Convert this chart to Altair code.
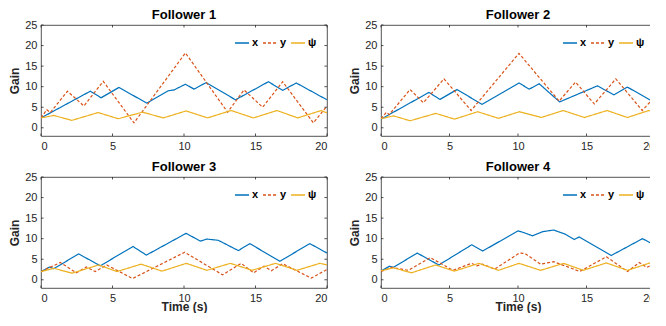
import altair as alt
import pandas as pd

panels = ["Follower 1", "Follower 2", "Follower 3", "Follower 4"]
series = ["x", "y", "ψ"]
colors = ["#0072BD", "#D95319", "#EDB120"]
dashes = [[1, 0], [3, 2], [1, 0]]
x_ticks = [0, 5, 10, 15, 20]
y_ticks = [0, 5, 10, 15, 20, 25]

# Follower 1
f1_x_t = [0, 3.45, 4.2, 5.45, 7.4, 8.9, 9.3, 10.1, 10.7, 11.55, 13.6, 15.9, 16.9, 17.85, 20]
f1_x_v = [2.4, 8.9, 7.3, 9.8, 6.0, 9.0, 9.2, 10.6, 9.4, 11.0, 6.8, 11.2, 9.1, 10.9, 6.8]
f1_y_t = [0, 0.4, 0.65, 1.85, 3.0, 4.35, 6.5, 10.1, 13.05, 14.2, 15.5, 16.9, 19.05, 20]
f1_y_v = [2.4, 4.4, 3.7, 8.9, 5.3, 11.3, 1.2, 18.2, 3.8, 9.2, 5.0, 11.2, 1.2, 5.3]
f1_p_t = [0, 0.9, 2.15, 4.0, 5.4, 7.1, 8.55, 10.15, 11.65, 13.3, 14.85, 16.5, 17.95, 19.6, 20]
f1_p_v = [2.4, 3.0, 1.8, 3.7, 2.2, 3.8, 2.4, 4.1, 2.4, 4.2, 2.4, 4.2, 2.4, 4.2, 3.6]

# Follower 2
f2_x_t = [0, 3.5, 4.3, 5.55, 7.37, 10.07, 10.82, 11.55, 13.04, 15.8, 17.0, 17.98, 20]
f2_x_v = [2.1, 8.6, 6.9, 9.3, 5.7, 10.9, 9.4, 10.7, 6.3, 10.2, 8.0, 9.9, 6.1]
f2_y_t = [0, 0.4, 0.6, 2.12, 3.09, 4.6, 6.58, 10.07, 13.0, 14.2, 15.57, 17.14, 19.07, 20]
f2_y_v = [2.2, 3.8, 3.2, 9.3, 6.1, 11.9, 4.2, 18.1, 6.5, 11.1, 5.8, 11.9, 4.2, 7.6]
f2_p_t = [0, 0.92, 2.12, 4.0, 5.37, 7.06, 8.58, 10.1, 11.7, 13.3, 14.85, 16.5, 17.98, 19.55, 20]
f2_p_v = [2.2, 2.9, 1.7, 3.5, 2.1, 3.9, 2.3, 3.9, 2.5, 4.2, 2.5, 4.2, 2.5, 4.2, 3.6]

# Follower 3
f3_x_t = [0, 0.6, 0.9, 2.63, 4.15, 6.43, 7.37, 10.15, 11.14, 11.6, 12.4, 13.8, 14.6, 16.7, 18.8, 20]
f3_x_v = [2.0, 3.1, 2.7, 6.3, 3.4, 8.1, 6.0, 11.3, 9.4, 9.9, 9.6, 7.1, 8.8, 4.5, 8.8, 6.5]
f3_y_t = [0, 1.35, 2.47, 3.17, 3.8, 4.6, 6.4, 10.05, 12.7, 14.0, 14.87, 15.6, 16.1, 16.9, 18.9, 20]
f3_y_v = [2.0, 4.2, 1.7, 3.1, 2.0, 3.6, 0.3, 6.7, 1.2, 4.0, 1.7, 3.3, 2.2, 3.9, 0.4, 2.5]
f3_p_t = [0, 0.89, 2.17, 4.03, 5.31, 7.0, 8.46, 10.16, 11.6, 13.24, 14.76, 16.4, 17.9, 19.5, 20]
f3_p_v = [2.0, 2.8, 1.6, 3.6, 2.0, 3.8, 2.1, 4.0, 2.3, 4.0, 2.3, 4.0, 2.3, 4.0, 3.6]

# Follower 4
f4_x_t = [0, 0.62, 0.9, 2.64, 4.22, 6.62, 7.43, 10.0, 10.4, 11.06, 11.8, 12.6, 13.45, 14.1, 14.46, 16.8, 19.09, 20]
f4_x_v = [2.1, 3.3, 3.0, 6.5, 3.6, 8.5, 7.0, 11.9, 11.5, 10.7, 11.7, 12.1, 11.1, 9.8, 10.4, 5.9, 10.0, 8.4]
f4_y_t = [0, 0.8, 2.0, 3.6, 5.25, 6.6, 7.0, 7.4, 8.3, 10.1, 10.5, 11.65, 12.6, 13.9, 14.5, 16.45, 18.0, 18.85, 19.4, 20]
f4_y_v = [2.0, 3.0, 2.3, 5.4, 2.3, 4.0, 3.4, 3.8, 2.6, 6.5, 6.4, 3.8, 4.4, 2.8, 2.0, 5.6, 2.0, 4.2, 3.0, 4.0]
f4_p_t = [0, 0.9, 2.23, 3.98, 5.35, 7.14, 8.58, 10.07, 11.65, 13.33, 14.77, 16.45, 18.0, 19.64, 20]
f4_p_v = [2.2, 2.9, 1.7, 3.6, 2.1, 4.0, 2.3, 4.0, 2.3, 4.0, 2.3, 4.1, 2.3, 4.1, 3.6]

data = {
    "Follower 1": [(f1_x_t, f1_x_v), (f1_y_t, f1_y_v), (f1_p_t, f1_p_v)],
    "Follower 2": [(f2_x_t, f2_x_v), (f2_y_t, f2_y_v), (f2_p_t, f2_p_v)],
    "Follower 3": [(f3_x_t, f3_x_v), (f3_y_t, f3_y_v), (f3_p_t, f3_p_v)],
    "Follower 4": [(f4_x_t, f4_x_v), (f4_y_t, f4_y_v), (f4_p_t, f4_p_v)],
}

X_MIN, X_MAX = 0, 20
Y_MIN, Y_MAX = -2, 25
TICK_Y = 0.6   # inward tick length in y units
TICK_X = 0.18  # inward tick length in x units

xt_rows = []
for t in x_ticks:
    xt_rows.append({"t": t, "v": Y_MIN, "b": Y_MIN + TICK_Y})
    xt_rows.append({"t": t, "v": Y_MAX - TICK_Y, "b": Y_MAX})
yt_rows = []
for v in y_ticks:
    yt_rows.append({"v": v, "t": X_MIN, "b": X_MIN + TICK_X})
    yt_rows.append({"v": v, "t": X_MAX - TICK_X, "b": X_MAX})
xt_df = pd.DataFrame(xt_rows)
yt_df = pd.DataFrame(yt_rows)

xs = alt.Scale(domain=[X_MIN, X_MAX], nice=False, zero=False)
ys = alt.Scale(domain=[Y_MIN, Y_MAX], nice=False, zero=False)
AX = "#262626"


def make_legend(lx):
    return alt.Legend(
        title=None, orient="none", legendX=lx, legendY=10, direction="horizontal",
        symbolType="stroke", symbolSize=196, symbolStrokeWidth=1.3,
        labelFontSize=11, labelFontWeight="bold", labelColor="#000000",
        columnPadding=1, labelOffset=2, padding=0, gridAlign="none",
    )


def panel(name, xtitle, w):
    rows = []
    for s, (tt, vv) in zip(series, data[name]):
        for k, (t, v) in enumerate(zip(tt, vv)):
            rows.append({"s": s, "t": t, "v": v, "k": k})
    d = pd.DataFrame(rows)
    legend = make_legend(w - 93)
    xax = alt.Axis(values=x_ticks, title=xtitle)
    yax = alt.Axis(values=y_ticks, title="Gain")
    lines = alt.Chart(d).mark_line(strokeWidth=1.2, clip=True).encode(
        x=alt.X("t:Q", scale=xs, axis=xax),
        y=alt.Y("v:Q", scale=ys, axis=yax),
        color=alt.Color("s:N", scale=alt.Scale(domain=series, range=colors), legend=legend),
        strokeDash=alt.StrokeDash("s:N", scale=alt.Scale(domain=series, range=dashes), legend=legend),
        order="k:Q",
    )
    xt = alt.Chart(xt_df).mark_rule(color=AX, strokeWidth=0.8).encode(
        x=alt.X("t:Q", scale=xs, axis=xax),
        y=alt.Y("v:Q", scale=ys, axis=yax),
        y2="b:Q",
    )
    yt = alt.Chart(yt_df).mark_rule(color=AX, strokeWidth=0.8).encode(
        y=alt.Y("v:Q", scale=ys, axis=yax),
        x=alt.X("t:Q", scale=xs, axis=xax),
        x2="b:Q",
    )
    return alt.layer(lines, xt, yt).properties(
        width=w, height=111,
        title=alt.TitleParams(name, fontSize=13, fontWeight="bold", color="#000000", offset=-3),
    )


top = alt.hconcat(panel("Follower 1", None, 286), panel("Follower 2", None, 274), spacing=20).resolve_legend(
    color="independent", strokeDash="independent")
bot = alt.hconcat(panel("Follower 3", "Time (s)", 286), panel("Follower 4", "Time (s)", 274), spacing=20).resolve_legend(
    color="independent", strokeDash="independent")

chart = alt.vconcat(top, bot, spacing=8).resolve_legend(
    color="independent", strokeDash="independent"
).properties(
    padding={"left": 0, "top": 0, "right": -6, "bottom": 0}
).configure(
    font="Liberation Sans",
).configure_view(
    stroke=AX, strokeWidth=0.8,
).configure_axis(
    domain=False, ticks=False, grid=False,
    labelFontSize=11, labelColor=AX, labelPadding=4,
    titleFontSize=12, titleFontWeight="bold", titleColor=AX,
).configure_axisY(
    titlePadding=3,
).configure_axisX(
    titlePadding=-2,
)

chart.save("out.html", embed_options={"renderer": "svg", "actions": False})
